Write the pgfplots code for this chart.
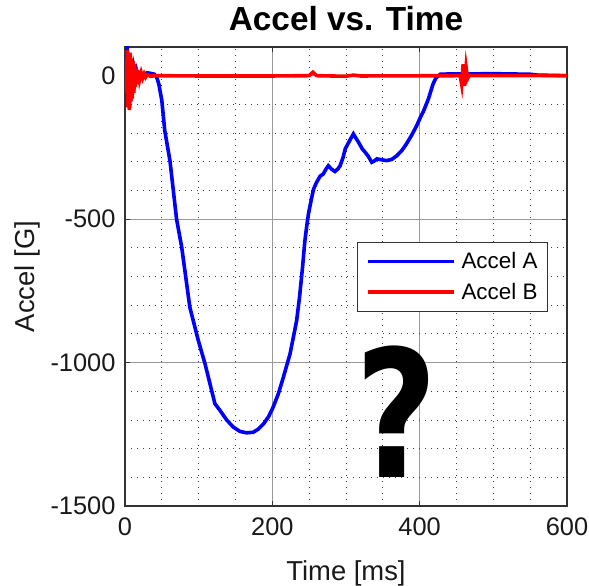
\documentclass[border=0pt]{standalone}
\usepackage{fontspec}
\setmainfont{Liberation Sans}
\newfontfamily\qfont{DejaVu Sans}
\usepackage{pgfplots}
\pgfplotsset{compat=1.18}
\begin{document}
\begin{tikzpicture}
\begin{axis}[
  name=ax,
  scale only axis,
  width=442bp, height=459bp,
  xmin=0, xmax=600, ymin=-1500, ymax=100,
  xtick={0,200,400,600}, xticklabels={0,200,400,600},
  ytick={-1500,-1000,-500,0}, yticklabels={-1500,-1000,-500,0},
  minor x tick num=3, minor y tick num=4,
  grid=both,
  major grid style={black!40, line width=0.9pt},
  minor grid style={black!75, line width=0.8pt, dash pattern=on 1.2bp off 4.8bp},
  tick align=inside,
  major tick length=5bp, minor tick length=0bp,
  tick style={black!80, line width=0.9pt},
  axis line style={black!80, line width=1.3pt},
  ticklabel style={font=\fontsize{25.5}{28}\selectfont, text=black!90},
  xticklabel style={yshift=-8bp},
  yticklabel style={xshift=-6bp},
  label style={font=\fontsize{27.5}{30}\selectfont, text=black!90},
  xlabel={Time [ms]},
  xlabel style={at={(axis description cs:0.5,0)}, anchor=base, yshift=-74bp},
  ylabel={Accel [G]},
  ylabel style={at={([xshift=-90bp]axis description cs:0,0.5)}, anchor=base},
  legend style={at={(0.957,0.575)}, anchor=north east, draw=black!80, line width=1pt,
     fill=white, font=\fontsize{22.5}{26}\selectfont, row sep=9bp, inner xsep=8bp, inner ysep=8bp},
  legend cell align=left,
  legend image code/.code={\draw[#1, line width=3.6bp] (0bp,0bp) -- (86bp,0bp); \path (90bp,0bp);},
  clip=true,
]
\addplot[blue, line width=3.6bp] coordinates {
(0,0) (2,50) (3,105) (4,40) (5,-60) (6,-115) (7,-50) (8,20) (10,-30) (12,20) (14,-15)
(16,15) (18,-5) (20,10) (25,5) (30,10) (35,8) (40,5) (43,-5) (46,-30) (50,-87)
(54,-192) (61,-296) (70,-500) (77,-598) (88,-807) (99.5,-923) (108.6,-1004)
(122,-1143) (129,-1167) (138,-1200) (147,-1225) (156,-1240) (165,-1245) (174,-1243)
(181,-1232) (188,-1214) (195,-1188) (201,-1156) (208,-1110) (215,-1051) (224,-970)
(233,-854) (237,-770) (241,-668) (244,-580) (246.5,-528) (249,-482) (253,-430)
(256,-395) (260,-372) (265,-350) (269,-343) (273,-325) (276,-314) (280,-325)
(285,-334) (289,-325) (292,-314) (296,-285) (299,-255) (305,-226) (310,-203)
(314,-220) (317,-232) (322,-255) (326,-267) (330,-280) (335,-302) (338,-298)
(342,-290) (348,-293) (355,-296) (362,-292) (369,-279) (376,-260) (382,-238)
(389,-208) (396,-174) (401,-145) (405,-125) (412,-80) (418,-30) (422,-8) (428,5)
(440,6) (460,6) (500,7) (550,5) (560,2) (600,0)
};
\addlegendentry{Accel A}
\addplot[red, line width=3.6bp] coordinates {
(0,0) (1,40) (2,-60) (3,90) (4,-110) (5,70) (6,-120) (7,80) (8,-90) (9,60) (10,-80)
(11,50) (12,-60) (13,40) (14,-40) (15,25) (16,-30) (17,20) (18,-20) (19,15) (20,-12)
(22,10) (24,-8) (26,6) (28,-5) (30,3) (35,-2) (40,0) (100,-1) (200,-1) (250,0)
(255,12) (260,0) (300,-2) (310,2) (320,-1) (455,0) (457,-30) (459,40) (461,-35)
(463,30) (465,-10) (467,0) (600,0)
};
\addlegendentry{Accel B}
\end{axis}
\node[font=\fontsize{33.5}{36}\selectfont\bfseries, anchor=base] at ([yshift=16bp]ax.north) {Accel vs. Time};
\node[font=\qfont\bfseries\fontsize{178}{180}\selectfont, xscale=0.8, anchor=base, inner sep=0pt, text depth=0pt] at ([xshift=272bp,yshift=28bp]ax.south west) {?};
\pgfresetboundingbox
\path ([xshift=-125bp,yshift=-80bp]ax.south west) rectangle ([xshift=22bp,yshift=47bp]ax.north east);
\end{tikzpicture}
\end{document}
